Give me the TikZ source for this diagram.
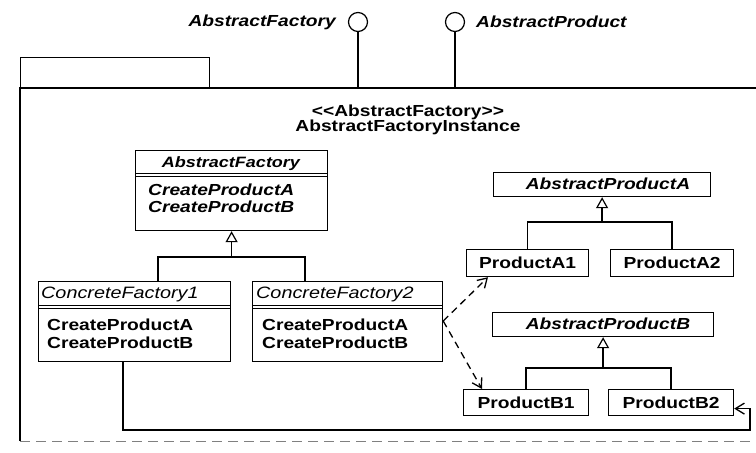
\documentclass[tikz,border=0pt]{standalone}
\usepackage{fontspec}
\setmainfont{Liberation Sans}[FakeStretch=1.2]
\usetikzlibrary{arrows.meta}
\begin{document}
\begin{tikzpicture}[x=1pt,y=-1pt,
  frame/.style={draw, line width=1.2pt, inner sep=0pt, anchor=north west},
  conn/.style={line width=1.3pt},
  sep/.style={line width=1pt},
  inherit/.style={conn, -{Triangle[open, length=11pt, width=12pt, line width=1.2pt]}},
  depend/.style={conn, dash pattern=on 7pt off 5pt, -{Straight Barb[length=9pt, width=11pt, line width=1.3pt]}},
  nav/.style={conn, -{Straight Barb[length=9pt, width=11pt, line width=1.3pt]}},
  txt/.style={inner sep=0pt, font=\fontsize{16}{19}\selectfont\bfseries},
  abstxt/.style={inner sep=0pt, font=\fontsize{16}{19}\selectfont\bfseries\itshape},
  conctxt/.style={inner sep=0pt, font=\fontsize{16.5}{19}\selectfont\itshape},
  lollipop/.style={draw, circle, line width=1.2pt, minimum size=19pt, inner sep=0pt},
]
\fill[white] (0,0) rectangle (756,453);
\useasboundingbox (0,0) rectangle (756,453);

% package frame with its tab
\node[frame, minimum width=189pt, minimum height=31pt] (tab) at (20,57) {};
\coordinate (bodyTL) at (20,88);
\coordinate (bodyTR) at (756,88);
\coordinate (bodyBL) at (20,441);
\coordinate (bodyBR) at (756,441);
\draw[conn] (bodyTR) -- (bodyTL) -- (bodyBL);
\draw[line width=0.8pt, gray, dash pattern=on 10pt off 6pt] (bodyBL) -- (bodyBR);

% provided interfaces
\node[lollipop] (lolF) at (358,22) {};
\node[lollipop] (lolP) at (455,22) {};
\draw[conn] (lolF.south) -- (lolF.south |- bodyTL);
\draw[conn] (lolP.south) -- (lolP.south |- bodyTL);
\node[abstxt, anchor=east] (lblF) at (336,22) {AbstractFactory};
\node[abstxt, anchor=west] (lblP) at (476,22) {AbstractProduct};

% stereotype and name of the component
\node[align=center, inner sep=0pt, font=\fontsize{16}{15}\selectfont\bfseries] (stereo) at (408,120)
  {<{}<AbstractFactory>{}>\\AbstractFactoryInstance};

% abstract factory class
\node[frame, minimum width=192pt, minimum height=80pt] (af) at (135,150) {};
\draw[sep] ([yshift=-23pt]af.north west) -- ([yshift=-23pt]af.north east);
\draw[sep] ([yshift=-26pt]af.north west) -- ([yshift=-26pt]af.north east);
\node[inner sep=0pt, font=\fontsize{15}{18}\selectfont\bfseries\itshape] (afName) at (231,164) {AbstractFactory};
\node[abstxt, anchor=west] (afOpA) at (148,190) {CreateProductA};
\node[abstxt, anchor=west] (afOpB) at (148,207) {CreateProductB};

% concrete factories
\node[frame, minimum width=192pt, minimum height=80pt] (cf1) at (38,281) {};
\draw[sep] ([yshift=-24pt]cf1.north west) -- ([yshift=-24pt]cf1.north east);
\draw[sep] ([yshift=-27pt]cf1.north west) -- ([yshift=-27pt]cf1.north east);
\node[conctxt, anchor=west] (cf1Name) at (41,294) {ConcreteFactory1};
\node[txt, anchor=west] (cf1OpA) at (47,325) {CreateProductA};
\node[txt, anchor=west] (cf1OpB) at (47,343) {CreateProductB};

\node[frame, minimum width=190pt, minimum height=80pt] (cf2) at (252,281) {};
\draw[sep] ([yshift=-24pt]cf2.north west) -- ([yshift=-24pt]cf2.north east);
\draw[sep] ([yshift=-27pt]cf2.north west) -- ([yshift=-27pt]cf2.north east);
\node[conctxt, anchor=west] (cf2Name) at (256,294) {ConcreteFactory2};
\node[txt, anchor=west] (cf2OpA) at (262,325) {CreateProductA};
\node[txt, anchor=west] (cf2OpB) at (262,343) {CreateProductB};

% factory generalization
\coordinate (fLevel) at (0,257);
\coordinate (fL) at (158,257);
\coordinate (fR) at (305,257);
\draw[conn] (fL |- cf1.north) -- (fL) -- (fR) -- (fR |- cf2.north);
\draw[inherit] (af.south |- fLevel) -- (af.south);

% product A hierarchy
\node[frame, minimum width=217pt, minimum height=24pt] (apa) at (493,172) {};
\node[abstxt] (apaName) at (608,184) {AbstractProductA};
\node[frame, txt, minimum width=122pt, minimum height=27pt] (pa1) at (466,249) {ProductA1};
\node[frame, txt, minimum width=123pt, minimum height=27pt] (pa2) at (610,249) {ProductA2};
\coordinate (aLevel) at (0,222);
\draw[conn] (pa1.north) -- (pa1.north |- aLevel) -- (pa2.north |- aLevel) -- (pa2.north);
\draw[inherit] (apa.south |- aLevel) -- (apa.south);

% product B hierarchy
\node[frame, minimum width=221pt, minimum height=24pt] (apb) at (492,312) {};
\node[abstxt] (apbName) at (608,324) {AbstractProductB};
\node[frame, txt, minimum width=125pt, minimum height=26pt] (pb1) at (463,389) {ProductB1};
\node[frame, txt, minimum width=125pt, minimum height=26pt] (pb2) at (608,389) {ProductB2};
\coordinate (bLevel) at (0,368);
\draw[conn] (pb1.north) -- (pb1.north |- bLevel) -- (pb2.north |- bLevel) -- (pb2.north);
\draw[inherit] (apb.south |- bLevel) -- (apb.south);

% dependencies of the second concrete factory
\coordinate (depSrc) at ([yshift=-40pt]cf2.north east);
\draw[depend] (depSrc) -- ([xshift=22pt]pa1.south west);
\draw[depend] (depSrc) -- ([xshift=19pt]pb1.north west);

% link from the first concrete factory round to ProductB2
\coordinate (retL) at (123,430);
\coordinate (retR) at (750,430);
\coordinate (pb2in) at ([yshift=-6pt]pb2.east);
\draw[nav] (retL |- cf1.south) -- (retL) -- (retR) -- (retR |- pb2in) -- (pb2in);
\end{tikzpicture}
\end{document}
